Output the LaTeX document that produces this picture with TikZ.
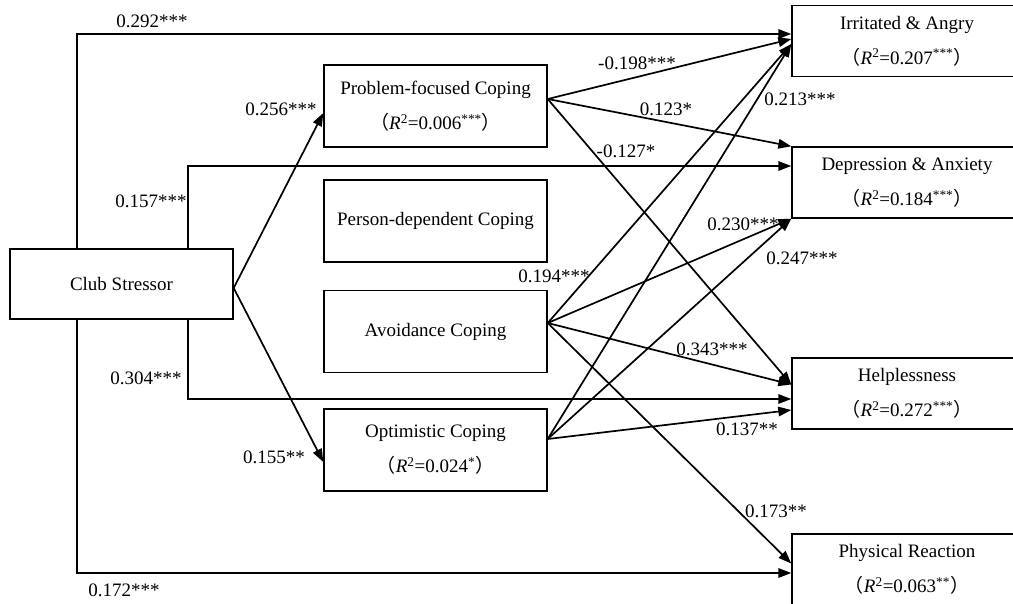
\documentclass[tikz,border=0pt]{standalone}
\usepackage{fontspec}
\setmainfont{Liberation Serif}
\newfontfamily\cjk{Noto Sans CJK SC}
\usetikzlibrary{arrows.meta}
\newcommand{\rsq}[2]{{\cjk （}\textit{R}\textsuperscript{2}=#1\textsuperscript{#2}{\cjk ）}}

\begin{document}
\begin{tikzpicture}[
  x=1pt, y=-1pt,
  font=\fontsize{19}{35}\selectfont,
  >={Triangle[length=13pt, width=9.5pt]},
  box/.style={rectangle, draw, line width=1.4pt, align=center, inner sep=0pt},
  leftbox/.style={box, minimum width=223pt, minimum height=70pt},
  midbox/.style={box, minimum width=223pt, minimum height=82pt},
  outbox/.style={box, minimum width=230pt, minimum height=71pt},
  link/.style={->, line width=1.7pt},
  coef/.style={anchor=base, inner sep=0pt},
]
\useasboundingbox (0,0) rectangle (1013,603);
\clip (0,0) rectangle (1013,603);

% boxes
\node[leftbox] (club) at (121.5,284) {Club Stressor};

\node[midbox] (prob)  at (435.5,106)   {Problem-focused Coping\\\rsq{0.006}{***}};
\node[midbox] (pers)  at (435.5,221)   {Person-dependent Coping};
\node[midbox] (avoid) at (435.5,331.5) {Avoidance Coping};
\node[midbox] (opt)   at (435.5,450)   {Optimistic Coping\\\rsq{0.024}{*}};

\node[outbox] (irr)  at (907,41)    {Irritated \& Angry\\\rsq{0.207}{***}};
\node[outbox] (dep)  at (907,182.5) {Depression \& Anxiety\\\rsq{0.184}{***}};
\node[outbox] (help) at (907,393.5) {Helplessness\\\rsq{0.272}{***}};
\node[outbox] (phys) at (907,569.5) {Physical Reaction\\\rsq{0.063}{**}};

% direct paths of the stressor
\draw[link] ([xshift=-44.5pt]club.north) |- ([yshift=7pt]irr.west);
\draw[link] ([xshift=66.5pt]club.north)  |- ([yshift=16.5pt]dep.west);
\draw[link] ([xshift=66.5pt]club.south)  |- ([yshift=-5.5pt]help.west);
\draw[link] ([xshift=-44.5pt]club.south) |- ([yshift=-3.5pt]phys.west);
\draw[link] ([yshift=-4pt]club.east) -- ([yshift=-7pt]prob.west);
\draw[link] ([yshift=-4pt]club.east) -- ([yshift=-12pt]opt.west);

% coping -> outcomes
\draw[link] ([yshift=7pt]prob.east) -- ([yshift=2pt]irr.west);
\draw[link] ([yshift=7pt]prob.east) -- (dep.north west);
\draw[link] ([yshift=7pt]prob.east) -- ([yshift=9pt]help.west);

\draw[link] ([yshift=8.5pt]avoid.east) -- ([yshift=-3pt]irr.west);
\draw[link] ([yshift=8.5pt]avoid.east) -- (dep.south west);
\draw[link] ([yshift=8.5pt]avoid.east) -- ([yshift=9pt]help.west);
\draw[link] ([yshift=8.5pt]avoid.east) -- ([yshift=6pt]phys.west);

\draw[link] ([yshift=11pt]opt.east) -- ([yshift=-3pt]irr.west);
\draw[link] ([yshift=11pt]opt.east) -- (dep.south west);
\draw[link] ([yshift=11pt]opt.east) -- ([yshift=-16.5pt]help.west);

% coefficients
\node[coef] (c292) at (152,27)  {0.292***};
\node[coef] (c256) at (281,115) {0.256***};
\node[coef] (c157) at (151,207) {0.157***};
\node[coef] (c198) at (637,69)  {-0.198***};
\node[coef] (c123) at (666,115) {0.123*};
\node[coef] (c127) at (626,157) {-0.127*};
\node[coef] (c213) at (800,105) {0.213***};
\node[coef] (c230) at (743,230) {0.230***};
\node[coef] (c247) at (802,264) {0.247***};
\node[coef] (c194) at (554,282) {0.194***};
\node[coef] (c343) at (712,355) {0.343***};
\node[coef] (c304) at (146,384) {0.304***};
\node[coef] (c137) at (747,435) {0.137**};
\node[coef] (c155) at (274,463) {0.155**};
\node[coef] (c173) at (776,517) {0.173**};
\node[coef] (c172) at (124,596) {0.172***};

\end{tikzpicture}
\end{document}
